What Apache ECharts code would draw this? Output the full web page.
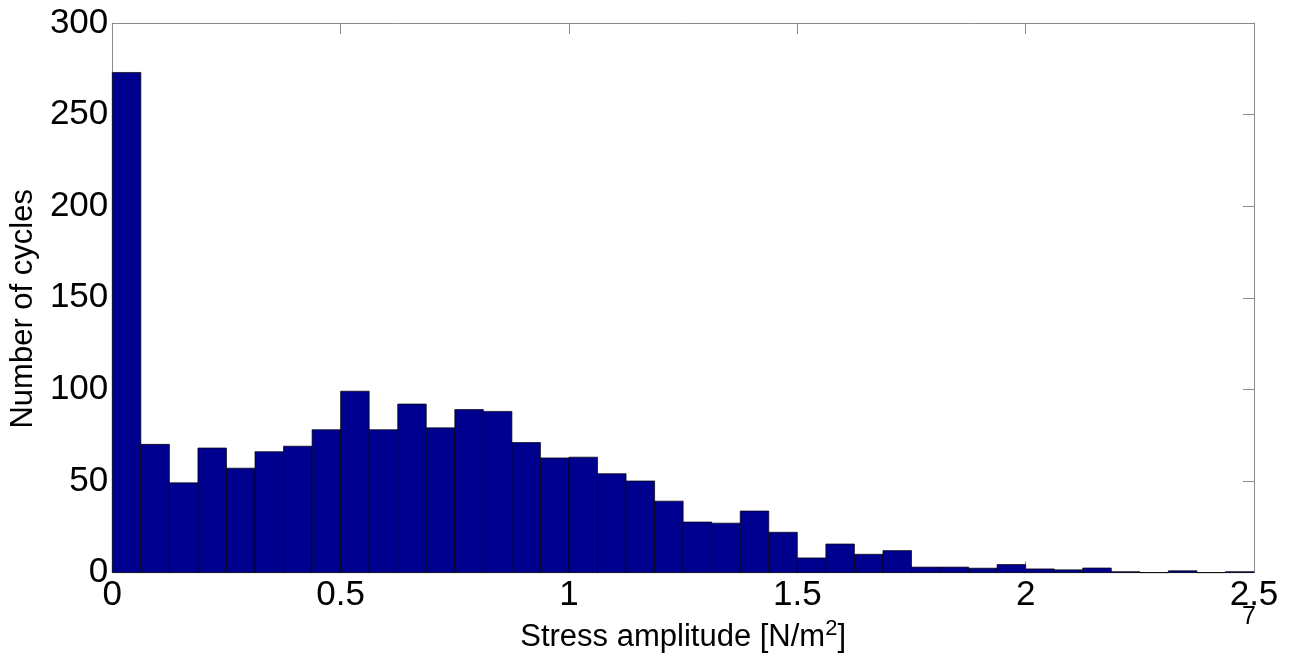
<!DOCTYPE html>
<html>
<head>
<meta charset="utf-8">
<script src="https://cdn.jsdelivr.net/npm/echarts@6/dist/echarts.min.js"></script>
<style>
  html, body {margin: 0; padding: 0; background: #fff;}
  #chart {width: 1291px; height: 658px;}
</style>
</head>
<body>
<div id="chart"></div>
<script>
// histogram of stress amplitude (x in units of 1e7 N/m^2)
const binWidth = 0.0625;
const counts = [
  273, 70, 49, 68, 57, 66, 69, 78, 99, 78,
  92, 79, 89, 88, 71, 62.6, 63, 54, 50, 39,
  27.6, 27, 33.6, 22, 8, 15.6, 10, 12, 3, 3,
  2.4, 4.4, 2, 1.5, 2.5, 0.5, 0, 1, 0, 0.5
];
const xTicks = [0, 0.5, 1, 1.5, 2, 2.5];
const yTicks = [0, 50, 100, 150, 200, 250, 300];

const font = 'Liberation Sans, Arial, Helvetica, sans-serif';
const axisGray = '#8a8a8a';

const bins = counts.map((c, i) => [i * binWidth, (i + 1) * binWidth, c]);

const chart = echarts.init(document.getElementById('chart'));

const boxAxis = (extra) => Object.assign({
  type: 'value',
  axisLine: {show: true, onZero: false, lineStyle: {color: axisGray, width: 1}},
  axisTick: {show: true, inside: true, length: 11, lineStyle: {color: axisGray}},
  splitLine: {show: false},
}, extra);

chart.setOption({
  animation: false,
  backgroundColor: '#fff',
  grid: {left: 111, right: 37, top: 23, bottom: 85},
  xAxis: [
    boxAxis({
      min: xTicks[0], max: xTicks[xTicks.length - 1], interval: 0.5,
      position: 'bottom',
      axisLabel: {color: '#000', fontSize: 35, fontFamily: font, margin: 5},
      name: '{a|Stress amplitude [N/m}{s|2}{a|]}',
      nameLocation: 'middle',
      nameGap: 44,
      nameTextStyle: {
        rich: {
          a: {fontSize: 31, fontFamily: font, color: '#000'},
          s: {fontSize: 22, fontFamily: font, color: '#000', verticalAlign: 'top', padding: [0, 0, 18, 0]}
        }
      }
    }),
    boxAxis({
      min: xTicks[0], max: xTicks[xTicks.length - 1], interval: 0.5,
      position: 'top',
      axisLabel: {show: false}
    })
  ],
  yAxis: [
    boxAxis({
      min: yTicks[0], max: yTicks[yTicks.length - 1], interval: 50,
      position: 'left',
      axisLabel: {color: '#000', fontSize: 35, fontFamily: font, margin: 4},
      name: 'Number of cycles',
      nameLocation: 'middle',
      nameGap: 70,
      nameTextStyle: {fontSize: 31, fontFamily: font, color: '#000', padding: [0, 22, 0, 0]}
    }),
    boxAxis({
      min: yTicks[0], max: yTicks[yTicks.length - 1], interval: 50,
      position: 'right',
      axisLabel: {show: false}
    })
  ],
  graphic: [{
    type: 'text',
    left: 1242, top: 605,
    style: {text: '7', fontSize: 25, fontFamily: font, fill: '#000'}
  }],
  series: [{
    type: 'custom',
    data: bins,
    encode: {x: [0, 1], y: 2},
    renderItem(params, api) {
      const p0 = api.coord([api.value(0), api.value(2)]);
      const p1 = api.coord([api.value(1), 0]);
      return {
        type: 'rect',
        shape: {x: p0[0], y: p0[1], width: p1[0] - p0[0], height: p1[1] - p0[1]},
        style: {fill: '#00008F', stroke: '#000', lineWidth: 0.7}
      };
    }
  }]
});
</script>
</body>
</html>
